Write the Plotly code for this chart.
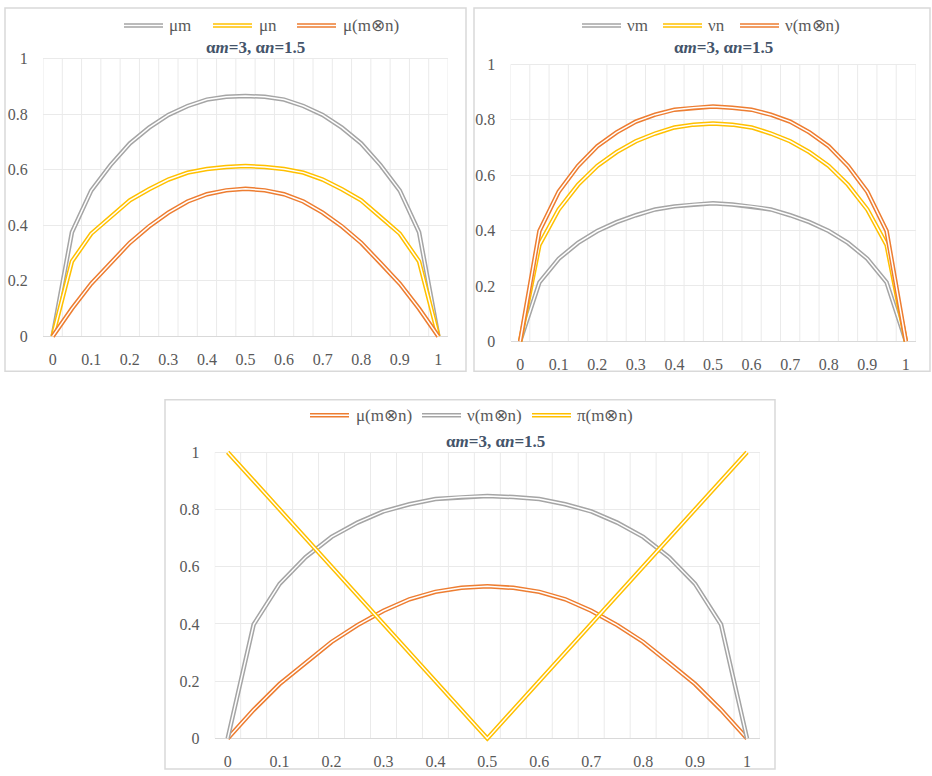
import plotly.graph_objects as go

# ---------------- data ----------------
x_vals = [0, 0.05, 0.1, 0.15, 0.2, 0.25, 0.3, 0.35, 0.4, 0.45, 0.5,
          0.55, 0.6, 0.65, 0.7, 0.75, 0.8, 0.85, 0.9, 0.95, 1]
x_tick_vals = [0, 0.1, 0.2, 0.3, 0.4, 0.5, 0.6, 0.7, 0.8, 0.9, 1]
x_tick_text = ["0", "0.1", "0.2", "0.3", "0.4", "0.5", "0.6", "0.7", "0.8", "0.9", "1"]
y_tick_vals = [0, 0.2, 0.4, 0.6, 0.8, 1]
y_tick_text = ["0", "0.2", "0.4", "0.6", "0.8", "1"]

mu_m = [0, 0.375, 0.525, 0.617, 0.695, 0.752, 0.798, 0.830, 0.853, 0.863, 0.866,
        0.863, 0.853, 0.830, 0.798, 0.752, 0.695, 0.617, 0.525, 0.375, 0]
mu_n = [0, 0.270, 0.370, 0.430, 0.490, 0.530, 0.565, 0.590, 0.603, 0.610, 0.614,
        0.610, 0.603, 0.590, 0.565, 0.530, 0.490, 0.430, 0.370, 0.270, 0]
mu_mn = [0, 0.100, 0.190, 0.264, 0.337, 0.396, 0.446, 0.486, 0.512, 0.526, 0.532,
         0.526, 0.512, 0.486, 0.446, 0.396, 0.337, 0.264, 0.190, 0.100, 0]
nu_m = [0, 0.213, 0.298, 0.355, 0.398, 0.430, 0.455, 0.476, 0.487, 0.494, 0.498,
        0.494, 0.487, 0.476, 0.455, 0.430, 0.398, 0.355, 0.298, 0.213, 0]
nu_n = [0, 0.348, 0.476, 0.565, 0.633, 0.683, 0.722, 0.750, 0.772, 0.782, 0.786,
        0.782, 0.772, 0.750, 0.722, 0.683, 0.633, 0.565, 0.476, 0.348, 0]
nu_mn = [0, 0.398, 0.540, 0.633, 0.704, 0.754, 0.793, 0.818, 0.836, 0.843, 0.847,
         0.843, 0.836, 0.818, 0.793, 0.754, 0.704, 0.633, 0.540, 0.398, 0]
pi_mn = [1, 0.9, 0.8, 0.7, 0.6, 0.5, 0.4, 0.3, 0.2, 0.1, 0,
         0.1, 0.2, 0.3, 0.4, 0.5, 0.6, 0.7, 0.8, 0.9, 1]

GRAY = "#A5A5A5"
YELLOW = "#FFC000"
ORANGE = "#ED7D31"
TXT = "#595959"
TITLE_C = "#44546A"
GRID = "#EAEAEA"
AXIS = "#D9D9D9"
BORDER = "#D9D9D9"
FONT = "Liberation Serif"
FS_TICK = 16
FS_LEG = 17
TITLE = "<b>α<i>m</i>=3, α<i>n</i>=1.5</b>"

W, H = 932, 776
OUTER_W, INNER_W = 4.5, 1.5
YPAD = 0.012

panels = [
    dict(ax="", px=(43, 448), py=(54.5, 335.7),
         series=[("μm", mu_m, GRAY), ("μn", mu_n, YELLOW), ("μ(m⊗n)", mu_mn, ORANGE)],
         leg_y=20.7, leg=[(124, 163, 167), (213, 252, 257), (297, 336, 341)],
         title=(255.5, 43), box=(5, 3, 466, 371)),
    dict(ax="2", px=(510.5, 915.5), py=(60, 340.7),
         series=[("νm", nu_m, GRAY), ("νn", nu_n, YELLOW), ("ν(m⊗n)", nu_mn, ORANGE)],
         leg_y=20.7, leg=[(582, 621, 625), (663, 702, 706), (740, 779, 783)],
         title=(723.5, 43), box=(474, 3, 930, 371)),
    dict(ax="3", px=(214.7, 760), py=(453, 743),
         series=[("μ(m⊗n)", mu_mn, ORANGE), ("ν(m⊗n)", nu_mn, GRAY), ("π(m⊗n)", pi_mn, YELLOW)],
         leg_y=415.7, leg=[(310, 349, 354), (422, 461, 465), (532, 571, 575)],
         title=(495.5, 442.7), box=(165, 400, 775, 774)),
]

fig = go.Figure()
shapes = []
annotations = []
layout = {}


def px2x(p):
    return p / W


def px2y(p):
    return 1 - p / H


# draw series: the Excel "double line" look = thick coloured line + thin white core
for P in panels:
    xa = "x" + P["ax"]
    ya = "y" + P["ax"]
    for name, vals, col in P["series"]:
        fig.add_trace(go.Scatter(x=x_vals, y=vals, mode="lines", name=name,
                                 line=dict(color=col, width=OUTER_W),
                                 xaxis=xa, yaxis=ya, showlegend=False,
                                 hoverinfo="skip"))
        fig.add_trace(go.Scatter(x=x_vals, y=vals, mode="lines", name=name,
                                 line=dict(color="white", width=INNER_W),
                                 xaxis=xa, yaxis=ya, showlegend=False,
                                 hoverinfo="skip"))

for P in panels:
    n = P["ax"]
    x0, x1 = P["px"]
    ytop, ybot = P["py"]
    span = ybot - ytop
    pad = YPAD * span
    layout["xaxis" + n] = dict(
        domain=[px2x(x0), px2x(x1)], range=[-0.025, 1.025],
        anchor="y" + n, showgrid=False, zeroline=False, showline=False,
        tickmode="array", tickvals=x_tick_vals, ticktext=x_tick_text,
        ticks="outside", ticklen=5, tickcolor="rgba(0,0,0,0)",
        tickfont=dict(family=FONT, size=FS_TICK, color=TXT), fixedrange=True)
    layout["yaxis" + n] = dict(
        domain=[px2y(ybot + pad), px2y(ytop - pad)], range=[-YPAD, 1 + YPAD],
        anchor="x" + n, showgrid=True, gridcolor=GRID, gridwidth=1,
        zeroline=True, zerolinecolor=AXIS, zerolinewidth=1, showline=False,
        tickmode="array", tickvals=y_tick_vals, ticktext=y_tick_text,
        ticks="outside", ticklen=11, tickcolor="rgba(0,0,0,0)",
        tickfont=dict(family=FONT, size=FS_TICK, color=TXT), fixedrange=True)
    # vertical gridlines at category boundaries
    xref = "x" + n
    yref = "y" + n
    for k in range(len(x_vals) + 1):
        xb = x_vals[0] - 0.025 + 0.05 * k
        shapes.append(dict(type="line", xref=xref, yref=yref, x0=xb, x1=xb,
                           y0=0, y1=1, line=dict(color=GRID, width=1), layer="below"))
    # panel border
    bx0, by0, bx1, by1 = P["box"]
    shapes.append(dict(type="rect", xref="paper", yref="paper",
                       x0=px2x(bx0), x1=px2x(bx1), y0=px2y(by1), y1=px2y(by0),
                       line=dict(color=BORDER, width=1.5), fillcolor="rgba(0,0,0,0)",
                       layer="below"))
    # legend (double-line keys + labels)
    ly = px2y(P["leg_y"])
    for (name, vals, col), (lx0, lx1, tx) in zip(P["series"], P["leg"]):
        shapes.append(dict(type="line", xref="paper", yref="paper",
                           x0=px2x(lx0), x1=px2x(lx1), y0=ly, y1=ly,
                           line=dict(color=col, width=OUTER_W)))
        shapes.append(dict(type="line", xref="paper", yref="paper",
                           x0=px2x(lx0), x1=px2x(lx1), y0=ly, y1=ly,
                           line=dict(color="white", width=INNER_W)))
        annotations.append(dict(x=px2x(tx), y=ly, xref="paper", yref="paper",
                                text=name, showarrow=False, xanchor="left",
                                yanchor="middle",
                                font=dict(family=FONT, size=FS_LEG, color=TXT)))
    tx, ty = P["title"]
    annotations.append(dict(x=px2x(tx), y=px2y(ty), xref="paper", yref="paper",
                            text=TITLE, showarrow=False, xanchor="center",
                            yanchor="middle",
                            font=dict(family=FONT, size=FS_LEG, color=TITLE_C)))

fig.update_layout(width=W, height=H, margin=dict(l=0, r=0, t=0, b=0),
                  paper_bgcolor="white", plot_bgcolor="white",
                  showlegend=False, shapes=shapes, annotations=annotations,
                  font=dict(family=FONT),
                  **layout)

fig.write_html("out.html", config={"displayModeBar": False})
